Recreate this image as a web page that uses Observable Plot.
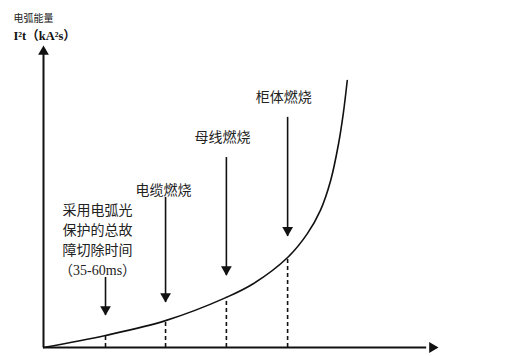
<!DOCTYPE html>
<html>
<head>
<meta charset="utf-8">
<script src="https://cdn.jsdelivr.net/npm/d3@7"></script>
<script src="https://cdn.jsdelivr.net/npm/@observablehq/plot@0.6"></script>
<style>
  html, body { margin: 0; padding: 0; background: #fff; }
</style>
</head>
<body>
<div id="chart"></div>
<script>
// Curve: arc energy I²t vs. fault duration (arbitrary units)
const curveX = [0, 15.7, 30.9, 46.3, 53.2, 61.8, 66.8, 70.1, 72.7, 74.7, 75.9, 76.9];
const curveY = [0, 4.0, 8.9, 16.6, 21.2, 29.8, 37.7, 45.4, 55.3, 67.5, 77.5, 88.4];

// Event markers (dashed drop lines + down arrows)
const eventX      = [15.7, 30.9, 46.3, 61.8];
const eventCurveY = [4.0, 8.9, 16.6, 29.8];
const arrowTop    = [23.2, 49.7, 62.9, 76.2];
const arrowTip    = [10.6, 14.9, 23.8, 36.8];

// Labels
const labelText = ["采用电弧光\n保护的总故\n障切除时间\n（35-60ms）", "电缆燃烧", "母线燃烧", "柜体燃烧"];
const labelX = [13.7, 30.4, 45.3, 60.8];
const labelY = [36.1, 52.6, 70.2, 83.4];

const yTitle1 = "电弧能量";
const yTitle2 = "I²t（kA²s）";

const curve = curveX.map((x, i) => ({x, y: curveY[i]}));
const events = eventX.map((x, i) => ({x, yc: eventCurveY[i], top: arrowTop[i], tip: arrowTip[i]}));
const labels = labelText.map((t, i) => ({t, x: labelX[i], y: labelY[i]}));

const font = "'Liberation Serif', 'Noto Sans CJK SC', serif";

const chart = Plot.plot({
  width: 518,
  height: 356,
  marginLeft: 43,
  marginRight: 80,
  marginTop: 45,
  marginBottom: 9,
  x: {domain: [0, 100], axis: null},
  y: {domain: [0, 100], axis: null},
  style: {background: "white", overflow: "visible", fontFamily: font, color: "#111"},
  marks: [
    // axes
    Plot.ruleX([0], {y1: 0, y2: 97, stroke: "#111", strokeWidth: 2}),
    Plot.ruleY([0], {x1: 0, x2: 97, stroke: "#111", strokeWidth: 2}),
    Plot.dot([{x: 0, y: 100}], {x: "x", y: "y", symbol: "triangle", r: 4, fill: "#111", stroke: "none", dy: 6.2}),
    Plot.dot([{x: 100, y: 0}], {x: "x", y: "y", symbol: "triangle", r: 4, fill: "#111", stroke: "none", rotate: 90, dx: -6.2}),
    // dashed drop lines
    Plot.ruleX(events, {x: "x", y1: 0, y2: "yc", stroke: "#111", strokeWidth: 1.6, strokeDasharray: "4,3"}),
    // curve
    Plot.line(curve, {x: "x", y: "y", curve: "catmull-rom", stroke: "#111", strokeWidth: 1.6}),
    // arrows
    Plot.ruleX(events, {x: "x", y1: "top", y2: "tip", stroke: "#111", strokeWidth: 1.6}),
    Plot.dot(events, {x: "x", y: "tip", symbol: "triangle", r: 4, fill: "#111", stroke: "none", rotate: 180, dy: -6.2}),
    // labels
    Plot.text(labels, {x: "x", y: "y", text: "t", fontSize: 14, lineHeight: 1.43, textAnchor: "middle", lineAnchor: "middle", fill: "#222", ariaLabel: "labels"}),
    // y title
    Plot.text([yTitle1], {text: d => d, frameAnchor: "top-left", dx: -30, dy: -27, textAnchor: "start", lineAnchor: "middle", fontSize: 10, fill: "#222", ariaLabel: "ytitle1"}),
    Plot.text([yTitle2], {text: d => d, frameAnchor: "top-left", dx: -30, dy: -9.5, textAnchor: "start", lineAnchor: "middle", fontSize: 12.5, fontWeight: "bold", fill: "#111"})
  ]
});

document.getElementById("chart").appendChild(chart);

// letter spacing to match the spaced-out reference typography
const svg = d3.select(chart);
svg.selectAll('g[aria-label="labels"] text').each(function() {
  const t = d3.select(this);
  const spans = t.selectAll("tspan");
  if (spans.size() > 1) {
    spans.each(function(_, j) { if (j < 3) d3.select(this).style("letter-spacing", "2px"); });
  } else {
    t.style("letter-spacing", "1px");
  }
});
svg.selectAll('g[aria-label="ytitle1"] text').style("letter-spacing", "-0.8px");
</script>
</body>
</html>
